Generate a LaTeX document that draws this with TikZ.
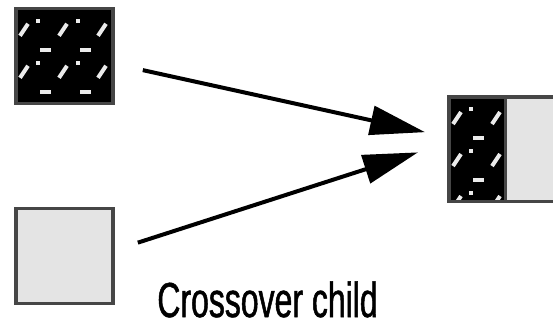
\documentclass[tikz,border=0pt]{standalone}
\usepackage{fontspec}
\usepackage{tikz}
\usetikzlibrary{positioning,arrows.meta}
\newfontfamily\narrowfont[FakeStretch=0.65,FakeBold=1]{Liberation Sans}
\definecolor{borde}{RGB}{70,70,70}
\definecolor{relleno}{RGB}{228,228,228}
\definecolor{moteado}{RGB}{235,235,235}

\begin{document}
\begin{tikzpicture}[x=0.02cm, y=-0.02cm,
  plainbox/.style={draw=borde, fill=relleno, line width=0.07cm, inner sep=0pt},
  texbox/.style={draw=borde, fill=black, line width=0.07cm, inner sep=0pt},
  mota/.style={moteado, line width=0.08cm},
  flecha/.style={-{Triangle[length=1.1cm, width=0.58cm]}, line width=0.08cm}
]
\clip (0,0) rectangle (553,326);
\node[texbox, minimum width=1.95cm, minimum height=1.9cm] (parentA) at (64.5,56) {};
\node[plainbox, minimum width=1.95cm, minimum height=1.9cm] (parentB) at (64.5,256) {};
\node[texbox, minimum width=1.13cm, minimum height=2.09cm] (child) at (477,149) {};
\node[plainbox, minimum width=1.13cm, minimum height=2.09cm, right=-0.07cm of child] (childR) {};
% speckles on the dark squares
\foreach \n in {parentA,child} {
  \begin{scope}
    \clip ([shift={(0.07cm,-0.07cm)}]\n.north west) rectangle ([shift={(-0.07cm,0.07cm)}]\n.south east);
    \begin{scope}[shift={(\n.north west)}, mota]
      \foreach \px in {10,49,88} \foreach \py in {23,65,107}
        \draw (\px-4,\py+6) -- (\px+4,\py-6);
      \foreach \px in {24,64} \foreach \py in {14,56,98}
        \fill (\px-2,\py-2) rectangle ++(4,4);
      \foreach \px in {26,66} \foreach \py in {43,85}
        \draw (\px,\py) -- ++(11,0);
    \end{scope}
  \end{scope}
}
\draw[flecha, shorten <=0.57cm, shorten >=0.45cm]
  ([yshift=-0.16cm]parentA.east) -- ([yshift=0.24cm]child.west);
\draw[flecha, shorten <=0.48cm, shorten >=0.61cm]
  ([yshift=0.12cm]parentB.east) -- ([yshift=0.12cm]child.west);
\node[anchor=base west, inner sep=0pt, font=\narrowfont\fontsize{28}{30}\selectfont]
  (caption) at (157,317) {Crossover child};
\end{tikzpicture}
\end{document}
